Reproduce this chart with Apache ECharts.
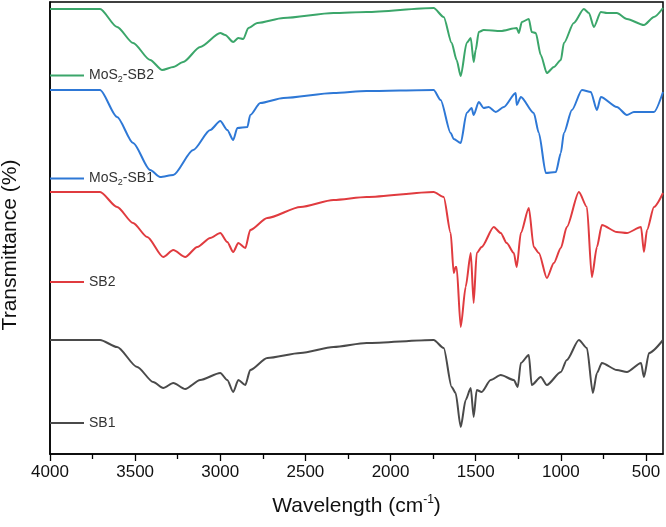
<!DOCTYPE html>
<html>
<head>
<meta charset="utf-8">
<script src="https://cdn.jsdelivr.net/npm/echarts@6/dist/echarts.min.js"></script>
<style>html,body{margin:0;padding:0;background:#fff}#c{width:666px;height:527px}</style>
</head>
<body>
<div id="c"></div>
<script>
// Series data: [wavenumber (cm-1), transmittance (arbitrary, offset units)]
const mos2SB2 = [[4000,445],[3706,445],[3606,427],[3512,411],[3412,394],[3341,384],[3276,387],[3218,392],[3118,407],[3000,421],[2971,419],[2924,412],[2894,416],[2865,415],[2835,426],[2782,431],[2629,436],[2335,441],[2141,442],[1747,446],[1688,437],[1641,411],[1612,394],[1588,378],[1553,411],[1529,416],[1512,392],[1500,404],[1482,422],[1453,424],[1353,423],[1259,426],[1247,421],[1229,432],[1188,435],[1171,422],[1147,421],[1118,399],[1082,381],[1041,387],[1000,394],[982,411],[924,431],[865,445],[835,441],[806,427],[765,442],[729,441],[671,441],[612,435],[512,429],[453,437],[400,446]];
const mos2SB1 = [[4000,364],[3706,364],[3606,337],[3512,311],[3412,284],[3353,277],[3276,279],[3159,304],[3059,324],[3000,333],[2959,324],[2924,314],[2900,326],[2841,327],[2824,339],[2765,351],[2629,356],[2335,361],[2141,363],[1747,364],[1706,354],[1647,321],[1629,315],[1588,311],[1553,341],[1524,346],[1512,339],[1482,352],[1453,346],[1424,347],[1382,342],[1335,347],[1265,361],[1259,349],[1235,357],[1159,341],[1129,321],[1088,281],[1029,282],[1000,301],[982,321],[935,344],[876,364],[824,362],[788,344],[765,357],[671,347],[612,339],[571,342],[453,342],[400,362]];
const sb2 = [[4000,262],[3706,262],[3606,247],[3512,231],[3429,217],[3335,197],[3276,204],[3206,197],[3135,207],[3059,216],[3000,221],[2959,212],[2924,202],[2894,211],[2853,206],[2824,224],[2724,236],[2529,247],[2335,254],[2141,257],[1747,262],[1688,257],[1647,221],[1629,181],[1618,187],[1612,187],[1588,127],[1559,167],[1529,201],[1512,151],[1494,201],[1465,207],[1394,227],[1353,221],[1318,211],[1276,201],[1259,187],[1235,221],[1188,246],[1159,207],[1129,201],[1082,176],[1041,191],[1000,206],[965,227],[894,262],[847,247],[818,177],[788,207],[759,229],[671,222],[612,221],[529,227],[512,202],[494,224],[453,247],[400,261]];
const sb1 = [[4000,114],[3706,114],[3606,107],[3488,87],[3394,72],[3335,66],[3276,71],[3206,65],[3118,74],[3000,81],[2959,74],[2924,62],[2894,74],[2853,69],[2824,84],[2724,96],[2529,101],[2335,107],[2141,111],[1747,114],[1688,106],[1641,67],[1618,61],[1588,27],[1559,54],[1529,66],[1512,37],[1494,64],[1465,62],[1412,74],[1353,79],[1276,74],[1253,67],[1235,91],[1188,99],[1171,69],[1118,77],[1082,69],[1000,82],[965,94],[894,114],[847,106],[812,61],[788,81],[759,91],[671,84],[612,82],[529,91],[512,77],[482,101],[400,114]];

const seriesNames = ['MoS2-SB2','MoS2-SB1','SB2','SB1'];
const seriesColors = ['#3ba66a','#2e78d6','#e03b3f','#4a4a4a'];
const majorTicks = [4000,3500,3000,2500,2000,1500,1000,500];
const minorTicks = [3750,3250,2750,2250,1750,1250,750];
const legendY = [75,178,282,423];

const FONT = 'Liberation Sans, Arial, sans-serif';
const chart = echarts.init(document.getElementById('c'), null, {renderer:'canvas'});

const dataSets = [mos2SB2, mos2SB1, sb2, sb1];
const series = dataSets.map((d,i)=>({
  name: seriesNames[i], type:'line', data:d, showSymbol:false, symbol:'none',
  smooth:0.25, smoothMonotone:'x',
  lineStyle:{width:2, color:seriesColors[i]}, itemStyle:{color:seriesColors[i]},
  xAxisIndex:0, yAxisIndex:0, z:3
}));

const legends = seriesNames.map((n,i)=>({
  data:[n], left:50, top:legendY[i]-8, padding:0, icon:'rect',
  itemWidth:34, itemHeight:2, itemGap:0,
  selectedMode:false,
  formatter: name => name.replace('S2-', 'S{s|2}-'),
  textStyle:{fontFamily:FONT, fontSize:14, color:'#333', lineHeight:16,
    rich:{s:{fontSize:9, fontFamily:FONT, color:'#333', lineHeight:16, padding:[8,0,0,0]}}}
}));

chart.setOption({
  animation:false,
  backgroundColor:'#fff',
  grid:{left:50, right:3, top:2, bottom:73, show:true, borderColor:'#000', borderWidth:1.5, backgroundColor:'transparent', containLabel:false, outerBoundsMode:'none'},
  legend: legends,
  xAxis:[{
    type:'value', min:400, max:4000, inverse:true,
    name:'Wavelength (cm{sup|-1})', nameLocation:'middle', nameGap:40,
    nameTextStyle:{fontFamily:FONT, fontSize:21, color:'#111',
      rich:{sup:{fontSize:12, fontFamily:FONT, color:'#111', padding:[0,0,12,0]}}},
    axisLine:{show:true, lineStyle:{color:'#000', width:1.5}},
    axisTick:{show:true, inside:false, length:7, lineStyle:{color:'#000', width:1.3}, customValues:majorTicks},
    axisLabel:{show:true, fontFamily:FONT, fontSize:17, color:'#111', margin:10, customValues:majorTicks, formatter: v => String(v)},
    splitLine:{show:false}
  },{
    type:'value', min:400, max:4000, inverse:true, position:'bottom',
    axisLine:{show:false},
    axisTick:{show:true, inside:false, length:5, lineStyle:{color:'#000', width:1.3}, customValues:minorTicks},
    axisLabel:{show:false},
    splitLine:{show:false}
  }],
  yAxis:{
    type:'value', min:0, max:452,
    name:'Transmittance (%)', nameLocation:'middle', nameGap:29,
    nameTextStyle:{fontFamily:FONT, fontSize:21, color:'#111', padding:[0,34,0,0]},
    axisLine:{show:true, lineStyle:{color:'#000', width:1.5}},
    axisTick:{show:false}, axisLabel:{show:false}, splitLine:{show:false}
  },
  series: series
});
</script>
</body>
</html>
